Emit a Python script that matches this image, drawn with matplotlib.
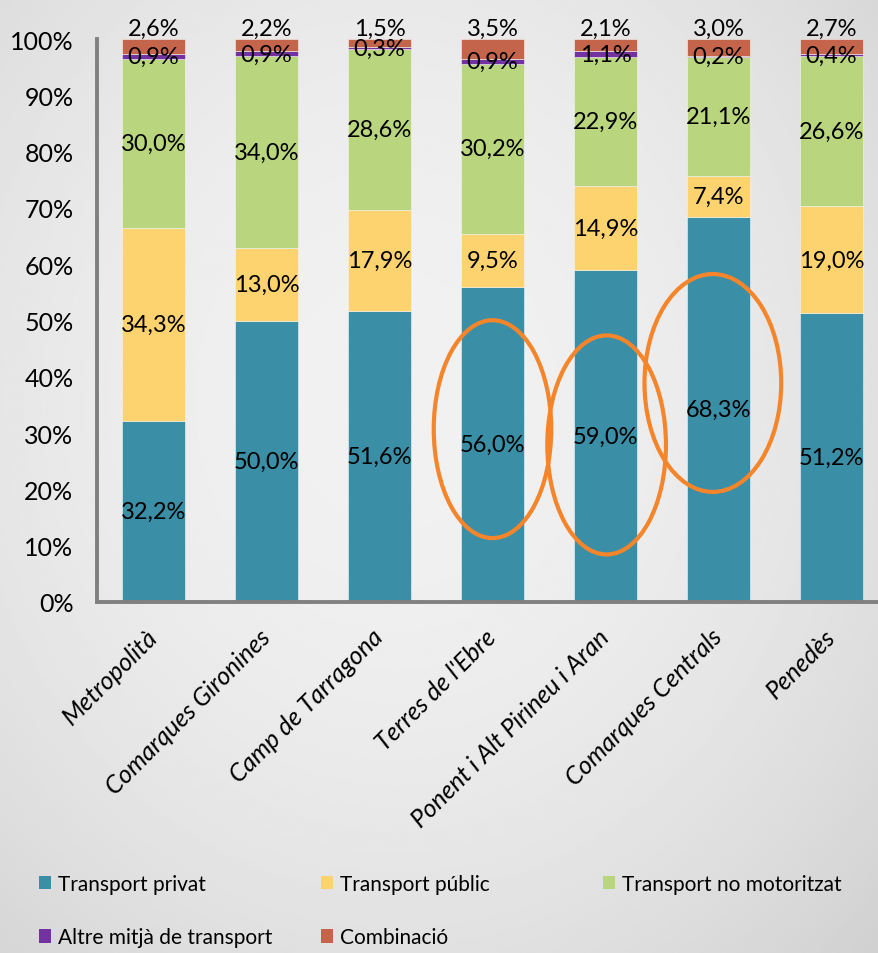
import numpy as np
import matplotlib
matplotlib.use("Agg")
import matplotlib.pyplot as plt
from matplotlib.patches import Ellipse, Patch

plt.rcParams['font.family'] = ['Lato', 'DejaVu Sans']

# ---------------- data ----------------
categories = ["Metropolità", "Comarques Gironines", "Camp de Tarragona",
              "Terres de l'Ebre", "Ponent i Alt Pirineu i Aran",
              "Comarques Centrals", "Penedès"]
series_names = ["Transport privat", "Transport públic", "Transport no motoritzat",
                "Altre mitjà de transport", "Combinació"]
transport_privat = [32.2, 50.0, 51.6, 56.0, 59.0, 68.3, 51.2]
transport_public = [34.3, 13.0, 17.9, 9.5, 14.9, 7.4, 19.0]
transport_no_motor = [30.0, 34.0, 28.6, 30.2, 22.9, 21.1, 26.6]
altre_mitja = [0.9, 0.9, 0.3, 0.9, 1.1, 0.2, 0.4]
combinacio = [2.6, 2.2, 1.5, 3.5, 2.1, 3.0, 2.7]
y_ticks = [0, 10, 20, 30, 40, 50, 60, 70, 80, 90, 100]

# highlighted categories (orange ellipses): (category, centre %, width in slots, height %)
highlights = [("Terres de l'Ebre", 30.7, 1.04, 38.7),
              ("Ponent i Alt Pirineu i Aran", 27.9, 1.05, 38.9),
              ("Comarques Centrals", 38.9, 1.21, 38.7)]
highlight_dx = [0.0, 0.01, -0.05]

colors = ["#3A8FA7", "#FDD36F", "#B9D67E", "#7232A0", "#C4654B"]

# ---------------- figure ----------------
W, H = 879, 954
fig = plt.figure(figsize=(W / 100, H / 100), dpi=100)

# paper-like background with soft vignette
bg = fig.add_axes([0, 0, 1, 1], zorder=-10)
yy, xx = np.mgrid[0:1:300j, 0:1:300j]
r2 = ((xx - 0.45) / 0.75) ** 2 + ((yy - 0.42) / 0.8) ** 2
shade = 0.945 - 0.12 * np.clip(r2, 0, 1.6)
bg.imshow(shade, cmap="gray", vmin=0, vmax=1, extent=[0, 1, 0, 1],
          aspect="auto", origin="upper", interpolation="bilinear")
bg.set_axis_off()

ax = fig.add_axes([97 / W, (H - 603) / H, 791 / W, 563 / H])
ax.set_facecolor("none")

data = np.array([transport_privat, transport_public, transport_no_motor,
                 altre_mitja, combinacio], dtype=float)
shares = data / data.sum(axis=0)  # 100 % stacked
x = np.arange(len(categories))
bottom = np.zeros(len(categories))

fmt = lambda v: f"{v:.1f}%".replace(".", ",")
for i, (name, col) in enumerate(zip(series_names, colors)):
    bars = ax.bar(x, shares[i], bottom=bottom, width=0.565, color=col,
                  edgecolor="#f4f4f4", linewidth=0.4, label=name, zorder=2)
    labels = [fmt(v) for v in data[i]]
    if i < 4:
        ax.bar_label(bars, labels=labels, label_type="center", fontsize=17,
                     color="black", zorder=5)
    else:
        ax.bar_label(bars, labels=labels, label_type="edge", padding=0,
                     fontsize=17, color="black")
    bottom += shares[i]

for (cat, cy, w, h), dx in zip(highlights, highlight_dx):
    xi = categories.index(cat) + dx
    ax.add_patch(Ellipse((xi, cy / 100), w, h / 100, fill=False,
                         edgecolor="#F5852B", linewidth=3.0, zorder=4,
                         clip_on=False))

ax.set_xlim(-0.5, len(categories) - 0.5)
ax.set_ylim(0, 1)
ax.set_yticks([t / 100 for t in y_ticks])
ax.set_yticklabels([f"{t}%" for t in y_ticks], fontsize=18)
ax.set_xticks(x)
ax.set_xticklabels(categories, rotation=45, ha="right", va="center",
                   rotation_mode="anchor", fontsize=18, style="italic")
ax.tick_params(axis="both", length=0)
ax.tick_params(axis="y", pad=17)
ax.tick_params(axis="x", pad=22)
for s in ["top", "right"]:
    ax.spines[s].set_visible(False)
for s in ["left", "bottom"]:
    ax.spines[s].set_color("#808080")
    ax.spines[s].set_linewidth(2.8)

# legend: three columns placed like the original
handles = [Patch(facecolor=c, edgecolor="none") for c in colors]
cols = [([0, 3], 39), ([1, 4], 321), ([2], 603)]
for idx, xpx in cols:
    fig.legend([handles[k] for k in idx], [series_names[k] for k in idx],
               loc="upper left", bbox_to_anchor=(xpx / W, 1 - 875 / H),
               frameon=False, fontsize=15, handlelength=0.6,
               handleheight=0.6, handletextpad=0.3, labelspacing=1.6,
               borderpad=0, borderaxespad=0)

fig.savefig("out.png", dpi=100)
